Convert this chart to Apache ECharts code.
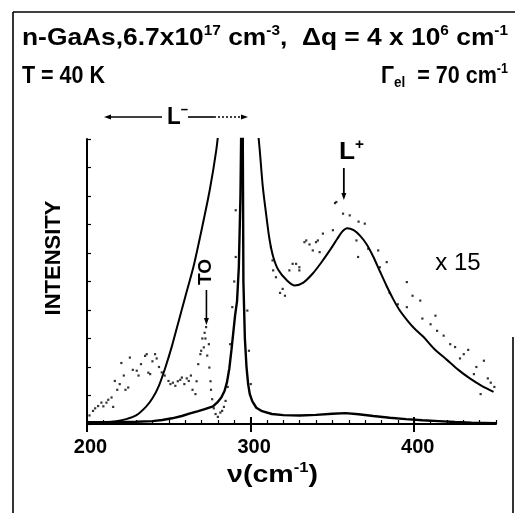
<!DOCTYPE html>
<html><head><meta charset="utf-8">
<script src="https://cdn.jsdelivr.net/npm/echarts@6/dist/echarts.min.js"></script>
<style>html,body{margin:0;padding:0;background:#fff}#c{width:515px;height:513px}</style>
</head><body><div id="c"></div>
<script>
// ---- data (wavenumber cm^-1, intensity in arbitrary units) ----
const xRange = [200, 450];
const yRange = [0, 10];
const xTickLabels = [200, 300, 400];

// measured spectrum x1 (solid, with strong L- peak)
const mainCurve = [[200,0.06],[210,0.06],[220,0.07],[230,0.08],[240,0.1],[246,0.14],[252,0.2],[258,0.28],[263,0.37],[268,0.45],[272,0.52],[277,0.62],[280,0.78],[282,0.92],[284,1.15],[285.5,1.45],[287,1.95],[288.3,2.6],[289.5,3.25],[290.5,3.8],[291.7,4.3],[292.8,5.5],[293.8,8],[294.4,11],[294.9,14],[295.3,9],[295.6,5],[296.5,3.0],[297.5,2.0],[298.5,1.4],[299.5,1.05],[301,0.8],[303.5,0.57],[307,0.45],[313,0.35],[320,0.31],[330,0.3],[340,0.32],[350,0.36],[358,0.38],[366,0.34],[375,0.28],[385,0.22],[395,0.17],[405,0.13],[415,0.1],[425,0.07],[435,0.05],[450,0.03]];

// calculated x15 curve, low-frequency branch
const x15Left = [[200,0.03],[210,0.05],[218,0.1],[224,0.17],[230,0.3],[236,0.6],[240,0.9],[244,1.35],[248,2.0],[252,2.75],[256,3.6],[260,4.45],[265,5.5],[270,6.8],[275,8.2],[279,9.6],[281,10.6]];

// calculated x15 curve, high-frequency branch (L+)
const x15Right = [[304.3,10.4],[305.6,9.6],[307.5,8.3],[309.7,7.27],[311.5,6.5],[313.8,5.87],[317,5.4],[322,5.05],[327,4.86],[332,4.95],[338,5.28],[343,5.65],[348.5,6.1],[353,6.5],[356,6.75],[359,6.87],[363,6.8],[367,6.6],[371,6.3],[375,5.87],[379,5.36],[383,4.86],[387,4.4],[391,4.0],[396,3.62],[400,3.36],[405.6,3.06],[412,2.65],[420,2.25],[427,1.9],[434,1.6],[441,1.35],[448.5,1.13]];

// measured x15 data points (dots)
const x15Dots = [[201.5,0.3],[203.7,0.46],[205,0.55],[206.8,0.63],[208.8,0.75],[210,0.62],[211.9,0.75],[213,0.85],[215,0.93],[216,0.6],[217,1.51],[218.5,1.2],[220,1.4],[221,2.14],[222.5,1.7],[223.5,1.2],[225.2,1.28],[226.2,2.33],[228,1.9],[230.4,1.87],[231.5,1.7],[233,2.1],[235.5,2.39],[236.5,2.45],[237.5,1.8],[238.6,1.75],[240,2.2],[241.6,2.45],[242.6,2.3],[244,2.0],[245.7,1.81],[247.5,1.7],[249.8,1.51],[251,1.4],[252.5,1.45],[254,1.34],[255.5,1.5],[257,1.55],[258,1.63],[259.5,1.4],[261,1.6],[262.2,1.51],[263.5,1.7],[264.5,1.2],[266.3,1.05],[267,1.5],[268,2.1],[269.3,2.45],[269.8,2.57],[270.5,3.0],[271.4,2.69],[271.9,3.2],[272.4,3.0],[272.8,3.4],[273.5,2.4],[274.5,2.8],[274.8,1.98],[275.5,1.5],[275.8,1.2],[276.5,0.87],[277.5,0.55],[278.6,0.35],[280,0.25],[281.5,0.4],[282.6,0.46],[283.7,0.6],[284.7,0.81],[286,1.3],[287.5,2.8],[288.8,4.1],[290,5.0],[290.9,5.86],[290.9,7.5],[298,3.98],[299,2.57],[300.1,1.4],[312.4,6.2],[313.4,5.74],[313.8,5.39],[315.5,5.15],[318,4.6],[319.6,4.74],[321,4.5],[323.7,5.39],[325.7,5.62],[327.8,5.62],[329.8,5.5],[329.8,5.39],[332.9,6.38],[334,6.44],[336,6.3],[338,6.09],[340,6.38],[341.1,6.44],[342.2,6.03],[344.2,6.68],[350.3,6.8],[351.6,7.75],[352.4,7.79],[356.5,7.38],[360.6,7.32],[364.7,6.44],[365.7,5.86],[366,7.1],[369.8,7.03],[371.9,6.15],[378,6.09],[379,5.5],[383.2,5.68],[385,4.6],[390,4.2],[395.5,4.98],[395.5,4.1],[399,4.5],[403.7,4.33],[405,3.7],[410,3.5],[413,3.8],[414,3.27],[418,3.1],[422,2.8],[425,2.7],[428,2.3],[430.3,2.45],[433,2.6],[436.5,1.75],[438,2.0],[440.6,1.05],[442.6,2.22],[445,1.6],[446.8,1.45],[449,1.3]];

// ---- rendering ----
const FONT = '"Liberation Sans", Arial, sans-serif';
const chart = echarts.init(document.getElementById('c'), null, {renderer: 'canvas'});

const mctx = document.createElement('canvas').getContext('2d');
const ST = {
  n: {fontSize: 24, fontWeight: 'bold', lineHeight: 28},
  s: {fontSize: 14, fontWeight: 'bold', lineHeight: 14, verticalAlign: 'top'},
  b: {fontSize: 15, fontWeight: 'bold', lineHeight: 15, verticalAlign: 'bottom'}
};
function richEl(parts, x, y, targetW, extra) {
  let w = 0, txt = '';
  const rich = {};
  parts.forEach(([t, k]) => {
    const st = ST[k];
    mctx.font = 'bold ' + st.fontSize + 'px ' + FONT;
    w += mctx.measureText(t).width;
    txt += '{' + k + '|' + t + '}';
    rich[k] = Object.assign({fontFamily: FONT, fill: '#000', color: '#000'}, st);
  });
  const k = targetW ? targetW / w : 1;
  return Object.assign({
    type: 'text', x: x, y: y, scaleX: k, z: 100,
    style: {text: txt, rich: rich, fill: '#000', font: 'bold 24px ' + FONT,
      align: 'left', textAlign: 'left', verticalAlign: 'middle', textVerticalAlign: 'middle'}
  }, extra || {});
}
function plainText(t, x, y, size, weight, rot, align) {
  return {type: 'text', x: x, y: y, rotation: rot || 0, z: 100,
    style: {text: t, fill: '#000', font: (weight || 'normal') + ' ' + size + 'px ' + FONT,
      align: align || 'center', textAlign: align || 'center', verticalAlign: 'middle', textVerticalAlign: 'middle'}};
}
function seg(x1, y1, x2, y2, w, dash) {
  return {type: 'line', z: 100, shape: {x1, y1, x2, y2},
    style: {stroke: '#000', lineWidth: w || 1.5, lineDash: dash || null}};
}
function head(pts) {
  return {type: 'polygon', z: 100, shape: {points: pts}, style: {fill: '#000'}};
}

const option = {
  animation: false,
  backgroundColor: '#fff',
  grid: {left: 87, right: 19, top: 139, bottom: 89, containLabel: false, outerBoundsMode: 'none'},
  xAxis: [
    {type: 'value', min: xRange[0], max: xRange[1], interval: 10,
      axisLine: {show: true, onZero: false, lineStyle: {color: '#000', width: 2}},
      axisTick: {show: true, inside: true, length: 4, lineStyle: {color: '#000', width: 1.2}},
      axisLabel: {show: true, customValues: xTickLabels, margin: 13, color: '#000',
        fontFamily: FONT, fontWeight: 'bold', fontSize: 20, padding: [0, 0, 0, 7]},
      splitLine: {show: false}},
    {type: 'value', min: xRange[0], max: xRange[1], position: 'bottom',
      axisLine: {show: false}, axisLabel: {show: false}, splitLine: {show: false},
      axisTick: {show: true, customValues: xTickLabels, inside: false, length: 8, lineStyle: {color: '#000', width: 2}}},
    {type: 'value', min: xRange[0], max: xRange[1], position: 'bottom',
      axisLine: {show: false}, axisLabel: {show: false}, splitLine: {show: false},
      axisTick: {show: true, customValues: xTickLabels, inside: true, length: 7, lineStyle: {color: '#000', width: 2}}}
  ],
  yAxis: {type: 'value', min: yRange[0], max: yRange[1], interval: 1,
    axisLine: {show: true, onZero: false, lineStyle: {color: '#000', width: 2}},
    axisTick: {show: true, inside: true, length: 4, lineStyle: {color: '#000', width: 1.2}},
    axisLabel: {show: false}, splitLine: {show: false}},
  series: [
    {type: 'line', data: mainCurve, symbol: 'none', clip: true,
      lineStyle: {color: '#000', width: 2.4}},
    {type: 'line', data: x15Left, symbol: 'none', smooth: 0.2, clip: true,
      lineStyle: {color: '#000', width: 2}},
    {type: 'line', data: x15Right, symbol: 'none', smooth: 0.3, clip: true,
      lineStyle: {color: '#000', width: 2}},
    {type: 'scatter', data: x15Dots, symbol: 'rect', symbolSize: 2.2, clip: true,
      itemStyle: {color: '#000'}}
  ]
};
chart.setOption(option);

const px = v => chart.convertToPixel({xAxisIndex: 0}, v);
const xL = px(357), xTO = px(273);
const g = [
  // frame
  seg(13, 12, 515, 12, 1.6), seg(13, 12, 13, 513, 1.6), seg(513, 337, 513, 513, 1.6),
  // header
  richEl([['n-GaAs,6.7x10', 'n'], ['17', 's'], [' cm', 'n'], ['-3', 's'], [',  ', 'n'], ['\u0394q = 4 x 10', 'n'], ['6', 's'], [' cm', 'n'], ['-1', 's']], 22, 38, 486),
  richEl([['T = 40 K', 'n']], 22, 76, 83),
  richEl([['\u0393', 'n'], ['el', 'b'], ['  = 70 cm', 'n'], ['-1', 's']], 381, 76, 127),
  // axis titles
  plainText('INTENSITY', 54, 258, 22, 'bold', Math.PI / 2),
  richEl([['\u03bd(cm', 'n'], ['-1', 's'], [')', 'n']], 227, 475, 91),
  plainText('x 15', 458, 263, 24, 'normal'),
  // L- arrow
  seg(108, 117, 162, 117, 1.6), head([[104, 117], [111, 114.5], [111, 119.5]]),
  richEl([['L', 'n'], ['\u2013', 's']], 167, 117, 21),
  seg(188, 117, 214, 117, 1.6), seg(214, 117, 241, 117, 1.4, [2, 2]),
  head([[248, 117], [241, 114.5], [241, 119.5]]),
  // L+ label and arrow
  richEl([['L', 'n'], ['+', 's']], 339, 152, 25),
  seg(xL, 168, xL, 194, 1.8), head([[xL - 2.5, 193], [xL + 2.5, 193], [xL, 200]]),
  // TO label and arrow
  plainText('TO', xTO - 1, 272, 19, 'bold', Math.PI / 2),
  seg(xTO, 290, xTO, 319, 1.6), head([[xTO - 2.5, 318], [xTO + 2.5, 318], [xTO, 325]])
];
chart.setOption({graphic: {elements: g}});
</script>
</body></html>
